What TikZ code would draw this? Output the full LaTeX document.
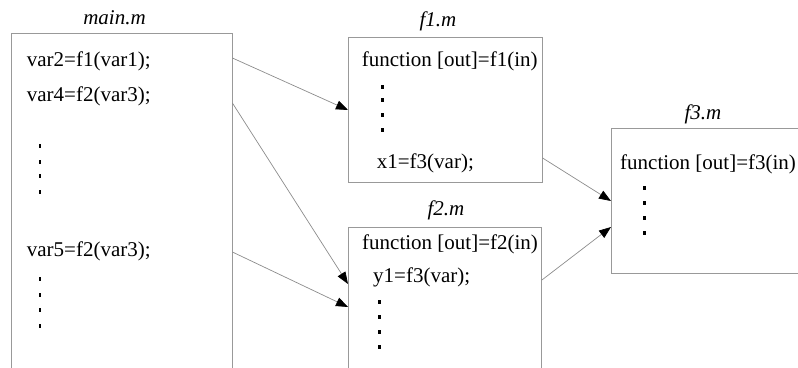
\documentclass[tikz,border=0pt]{standalone}
\usepackage{fontspec}
\setmainfont{Liberation Serif}
\usetikzlibrary{arrows.meta}
\begin{document}
\begin{tikzpicture}[x=1pt,y=-1pt,
  box/.style={draw=black!40,line width=0.9pt,rectangle,inner sep=0pt,anchor=north west},
  code/.style={anchor=base west,inner sep=0pt,font=\fontsize{21}{25}\selectfont},
  ttl/.style={anchor=base,inner sep=0pt,font=\fontsize{21}{25}\selectfont\itshape},
  vdot/.style={fill=black,draw=none,inner sep=0pt,minimum width=2.8pt,minimum height=4.5pt,rectangle},
  conn/.style={draw=black!45,line width=0.7pt,-{Triangle[length=12pt,width=9pt,color=black]}}]
\useasboundingbox (0,0) rectangle (798,367);
% boxes
\node[box,minimum width=220.8pt,minimum height=380pt] (main) at (10.7,33) {};
\node[box,minimum width=193.7pt,minimum height=145pt] (f1) at (348,36.7) {};
\node[box,minimum width=193pt,minimum height=190pt] (f2) at (348,227) {};
\node[box,minimum width=210pt,minimum height=144.7pt] (f3) at (611,128.3) {};
% titles
\node[ttl] (tmain) at (114.5,24) {main.m};
\node[ttl] (tf1) at (438,26) {f1.m};
\node[ttl] (tf2) at (446,215) {f2.m};
\node[ttl] (tf3) at (703,119) {f3.m};
% main.m code
\node[code] (m1) at (26.7,66.5) {var2=f1(var1);};
\node[code] (m2) at (26.7,101.5) {var4=f2(var3);};
\node[code] (m3) at (26.7,256) {var5=f2(var3);};
\foreach \y [count=\i] in {146,162,176,192} \node[vdot] (md\i) at (40,\y) {};
\foreach \y [count=\i] in {279,295,310,326} \node[vdot] (me\i) at (40,\y) {};
% f1.m code
\node[code] (a1) at (361.7,66.5) {function [out]=f1(in)};
\node[code] (a2) at (376.7,168) {x1=f3(var);};
\foreach \y [count=\i] in {87,100,115,130} \node[vdot] (ad\i) at (382.7,\y) {};
% f2.m code
\node[code] (b1) at (362,249) {function [out]=f2(in)};
\node[code] (b2) at (373,282) {y1=f3(var);};
\foreach \y [count=\i] in {302,317,332,347} \node[vdot] (bd\i) at (379.3,\y) {};
% f3.m code
\node[code] (c1) at (620,169) {function [out]=f3(in)};
\foreach \y [count=\i] in {188,203,218,233} \node[vdot] (cd\i) at (644.3,\y) {};
% connectors
\draw[conn] ([yshift=-25pt]main.north east) -- ([yshift=-73.3pt]f1.north west);
\draw[conn] ([yshift=-70pt]main.north east) -- ([yshift=-57pt]f2.north west);
\draw[conn] ([yshift=-219pt]main.north east) -- ([yshift=-80pt]f2.north west);
\draw[conn] ([yshift=-121.3pt]f1.north east) -- ([yshift=-72.7pt]f3.north west);
\draw[conn] ([yshift=-53pt]f2.north east) -- ([yshift=-98.7pt]f3.north west);
\end{tikzpicture}
\end{document}
